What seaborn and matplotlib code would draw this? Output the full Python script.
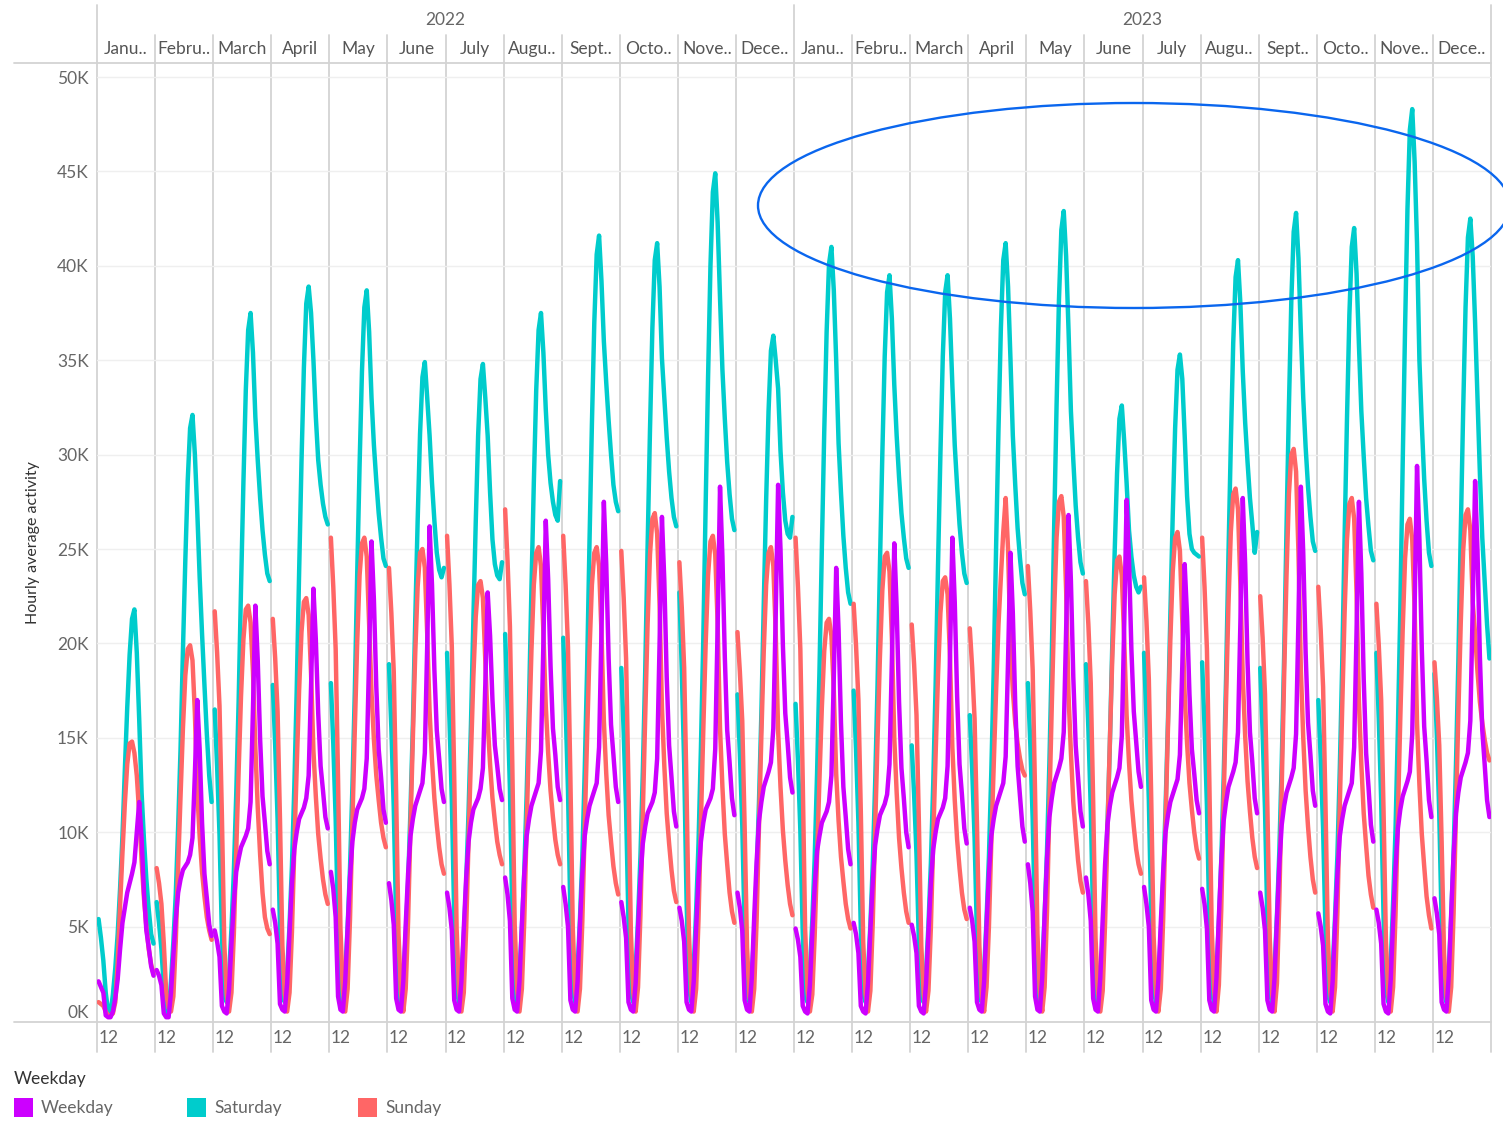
import matplotlib
matplotlib.use("Agg")
import matplotlib.pyplot as plt
import seaborn as sns
import pandas as pd
from matplotlib.patches import Ellipse, Rectangle
from matplotlib.lines import Line2D

# ---------------- data (hourly average activity, in thousands) ----------------
years = ["2022", "2023"]
month_labels = ["Janu..", "Febru..", "March", "April", "May", "June", "July",
                "Augu..", "Sept..", "Octo..", "Nove..", "Dece.."]
hour_tick_label = "12"
y_ticks = [0, 5, 10, 15, 20, 25, 30, 35, 40, 45, 50]
series_order = ["Saturday", "Sunday", "Weekday"]
legend_order = ["Weekday", "Saturday", "Sunday"]
colors = {"Weekday": "#CC00FF", "Saturday": "#00CCCC", "Sunday": "#FF6666"}

weekday = [
    [2.1, 1.8, 1.5, 0.3, 0.2, 0.2, 0.5, 1.2, 2.2, 3.8, 5.2, 6.0, 6.8, 7.3, 7.8, 8.4, 10.0, 11.6, 9.7, 6.8, 4.8, 3.9, 2.9, 2.4],
    [2.7, 2.4, 1.9, 0.4, 0.2, 0.2, 1.5, 3.5, 5.4, 6.8, 7.5, 8.0, 8.2, 8.4, 8.8, 9.7, 13.1, 17.0, 14.4, 10.5, 7.8, 6.5, 5.1, 4.5],
    [4.8, 4.2, 3.4, 0.8, 0.5, 0.4, 1.7, 4.1, 6.3, 7.9, 8.6, 9.2, 9.5, 9.8, 10.2, 11.6, 16.5, 22.0, 19.1, 14.9, 11.9, 10.5, 9.0, 8.3],
    [5.9, 5.2, 4.1, 0.9, 0.6, 0.5, 2.0, 4.7, 7.3, 9.1, 10.0, 10.7, 11.0, 11.3, 11.8, 13.0, 17.7, 22.9, 20.2, 16.3, 13.5, 12.2, 10.8, 10.2],
    [7.9, 7.0, 5.5, 1.3, 0.6, 0.5, 2.1, 4.9, 7.6, 9.5, 10.5, 11.2, 11.5, 11.8, 12.3, 13.9, 19.3, 25.4, 22.3, 17.7, 14.4, 12.9, 11.2, 10.5],
    [7.3, 6.4, 5.1, 1.2, 0.6, 0.5, 2.1, 5.1, 7.8, 9.8, 10.7, 11.4, 11.8, 12.2, 12.6, 14.2, 19.9, 26.2, 23.1, 18.6, 15.4, 13.9, 12.3, 11.6],
    [6.8, 6.0, 4.8, 1.1, 0.6, 0.5, 2.1, 4.9, 7.6, 9.5, 10.5, 11.2, 11.5, 11.8, 12.3, 13.4, 17.8, 22.7, 20.4, 17.0, 14.6, 13.5, 12.3, 11.7],
    [7.6, 6.7, 5.3, 1.2, 0.6, 0.5, 2.1, 5.1, 7.8, 9.8, 10.7, 11.4, 11.8, 12.2, 12.6, 14.3, 20.0, 26.5, 23.4, 18.8, 15.5, 14.1, 12.4, 11.7],
    [7.1, 6.2, 5.0, 1.1, 0.6, 0.5, 2.1, 5.1, 7.8, 9.8, 10.7, 11.4, 11.8, 12.2, 12.6, 14.5, 20.6, 27.5, 24.2, 19.2, 15.7, 14.1, 12.4, 11.6],
    [6.3, 5.5, 4.4, 1.0, 0.6, 0.5, 2.0, 4.9, 7.5, 9.4, 10.3, 11.0, 11.3, 11.6, 12.1, 13.9, 19.9, 26.7, 23.3, 18.2, 14.6, 12.9, 11.1, 10.3],
    [6.0, 5.3, 4.2, 1.0, 0.6, 0.5, 2.1, 4.9, 7.6, 9.5, 10.5, 11.2, 11.5, 11.8, 12.3, 14.4, 20.9, 28.3, 24.6, 19.3, 15.4, 13.7, 11.8, 10.9],
    [6.8, 6.0, 4.8, 1.1, 0.6, 0.5, 2.3, 5.5, 8.4, 10.6, 11.6, 12.4, 12.8, 13.2, 13.7, 15.5, 21.5, 28.4, 25.0, 19.9, 16.3, 14.7, 12.9, 12.1],
    [4.9, 4.3, 3.4, 0.8, 0.5, 0.4, 1.9, 4.6, 7.1, 9.0, 9.8, 10.5, 10.8, 11.1, 11.6, 13.0, 18.2, 24.0, 20.7, 15.8, 12.4, 10.8, 9.1, 8.3],
    [5.2, 4.6, 3.6, 0.8, 0.5, 0.4, 2.0, 4.8, 7.4, 9.3, 10.2, 10.9, 11.2, 11.5, 12.0, 13.6, 19.1, 25.3, 21.9, 16.9, 13.4, 11.8, 10.0, 9.2],
    [5.1, 4.5, 3.6, 0.8, 0.5, 0.4, 2.0, 4.7, 7.3, 9.1, 10.0, 10.7, 11.0, 11.3, 11.8, 13.5, 19.2, 25.6, 22.2, 17.2, 13.6, 12.0, 10.2, 9.4],
    [6.0, 5.3, 4.2, 1.0, 0.6, 0.5, 2.1, 5.1, 7.8, 9.8, 10.7, 11.4, 11.8, 12.2, 12.6, 14.0, 19.1, 24.8, 21.6, 16.8, 13.5, 11.9, 10.3, 9.5],
    [8.3, 7.3, 5.8, 1.3, 0.6, 0.5, 2.3, 5.6, 8.6, 10.8, 11.8, 12.6, 13.0, 13.4, 13.9, 15.3, 20.7, 26.8, 23.3, 18.2, 14.6, 12.9, 11.1, 10.3],
    [7.6, 6.7, 5.3, 1.2, 0.6, 0.5, 2.3, 5.4, 8.3, 10.4, 11.4, 12.1, 12.5, 12.9, 13.4, 15.1, 21.0, 27.6, 24.4, 19.7, 16.4, 14.8, 13.2, 12.4],
    [7.1, 6.2, 5.0, 1.1, 0.6, 0.5, 2.2, 5.2, 7.9, 10.0, 10.9, 11.6, 12.0, 12.4, 12.8, 14.1, 18.8, 24.2, 21.4, 17.3, 14.4, 13.1, 11.7, 11.0],
    [7.0, 6.2, 4.9, 1.1, 0.6, 0.5, 2.3, 5.5, 8.4, 10.6, 11.6, 12.4, 12.8, 13.2, 13.7, 15.3, 21.1, 27.7, 24.2, 19.0, 15.3, 13.7, 11.8, 11.0],
    [6.8, 6.0, 4.8, 1.1, 0.6, 0.5, 2.3, 5.4, 8.3, 10.4, 11.4, 12.1, 12.5, 12.9, 13.4, 15.2, 21.3, 28.3, 24.8, 19.5, 15.8, 14.1, 12.2, 11.4],
    [5.7, 5.0, 4.0, 0.9, 0.5, 0.4, 2.1, 5.1, 7.8, 9.8, 10.7, 11.4, 11.8, 12.2, 12.6, 14.5, 20.6, 27.5, 23.7, 18.1, 14.2, 12.4, 10.4, 9.5],
    [5.9, 5.2, 4.1, 0.9, 0.5, 0.4, 2.2, 5.3, 8.1, 10.2, 11.2, 11.9, 12.3, 12.7, 13.2, 15.2, 21.9, 29.4, 25.5, 19.7, 15.6, 13.8, 11.7, 10.8],
    [6.5, 5.7, 4.6, 1.0, 0.6, 0.5, 2.4, 5.7, 8.8, 11.0, 12.1, 12.9, 13.3, 13.7, 14.2, 15.9, 21.9, 28.6, 24.9, 19.3, 15.4, 13.6, 11.7, 10.8],
]

saturday = [
    [5.4, 4.4, 3.2, 1.5, 0.5, 0.4, 1.4, 2.8, 4.6, 7.0, 9.8, 13.3, 16.6, 19.4, 21.3, 21.8, 19.5, 16.0, 12.1, 9.6, 7.5, 5.9, 4.6, 4.1],
    [6.3, 5.2, 3.8, 1.8, 0.5, 0.4, 2.1, 4.2, 6.7, 10.3, 14.4, 19.6, 24.4, 28.6, 31.4, 32.1, 30.0, 27.0, 23.5, 20.5, 17.8, 15.2, 13.0, 11.6],
    [16.5, 13.5, 9.9, 4.6, 1.3, 1.0, 2.4, 4.9, 7.9, 12.0, 16.9, 22.9, 28.5, 33.4, 36.6, 37.5, 35.4, 32.0, 29.7, 27.7, 26.0, 24.7, 23.7, 23.3],
    [17.8, 14.6, 10.7, 5.0, 1.4, 1.0, 2.5, 5.1, 8.2, 12.4, 17.5, 23.7, 29.6, 34.6, 38.0, 38.9, 37.5, 35.0, 32.0, 29.7, 28.4, 27.4, 26.7, 26.3],
    [17.9, 14.7, 10.7, 5.0, 1.4, 1.0, 2.5, 5.0, 8.1, 12.4, 17.4, 23.6, 29.4, 34.4, 37.8, 38.7, 36.5, 33.0, 30.5, 28.6, 26.9, 25.6, 24.5, 24.1],
    [18.9, 15.5, 11.3, 5.3, 1.5, 1.0, 2.3, 4.5, 7.3, 11.2, 15.7, 21.3, 26.5, 31.1, 34.1, 34.9, 33.0, 31.0, 28.5, 26.5, 24.8, 23.9, 23.5, 24.0],
    [19.5, 16.0, 11.7, 5.5, 1.6, 1.0, 2.3, 4.5, 7.3, 11.1, 15.7, 21.2, 26.4, 31.0, 34.0, 34.8, 33.0, 31.0, 28.0, 25.5, 24.2, 23.6, 23.4, 24.3],
    [20.5, 16.8, 12.3, 5.7, 1.6, 1.0, 2.4, 4.9, 7.9, 12.0, 16.9, 22.9, 28.5, 33.4, 36.6, 37.5, 35.4, 32.4, 30.0, 28.5, 27.5, 26.8, 26.5, 28.6],
    [20.3, 16.6, 12.2, 5.7, 1.6, 1.0, 2.7, 5.4, 8.7, 13.3, 18.7, 25.4, 31.6, 37.0, 40.6, 41.6, 39.2, 36.0, 33.8, 31.8, 30.0, 28.4, 27.5, 27.0],
    [18.7, 15.3, 11.2, 5.2, 1.5, 1.0, 2.7, 5.4, 8.7, 13.2, 18.5, 25.1, 31.3, 36.7, 40.3, 41.2, 38.9, 35.1, 33.0, 30.9, 29.1, 27.7, 26.7, 26.2],
    [22.7, 18.6, 13.6, 6.4, 1.8, 1.0, 2.9, 5.8, 9.4, 14.4, 20.2, 27.4, 34.1, 40.0, 43.9, 44.9, 42.3, 38.3, 34.5, 31.9, 29.6, 27.9, 26.6, 26.0],
    [17.3, 14.2, 10.4, 4.8, 1.4, 1.0, 2.4, 4.7, 7.6, 11.6, 16.3, 22.1, 27.6, 32.3, 35.5, 36.3, 35.0, 33.5, 30.2, 28.0, 26.5, 25.8, 25.6, 26.7],
    [16.8, 13.8, 10.1, 4.7, 1.3, 1.0, 2.7, 5.3, 8.6, 13.1, 18.5, 25.0, 31.2, 36.5, 40.1, 41.0, 38.7, 35.0, 30.6, 28.0, 25.7, 24.0, 22.7, 22.1],
    [17.5, 14.4, 10.5, 4.9, 1.4, 1.0, 2.6, 5.1, 8.3, 12.6, 17.8, 24.1, 30.0, 35.2, 38.6, 39.5, 37.2, 33.7, 31.0, 28.8, 26.9, 25.6, 24.5, 24.0],
    [14.6, 12.0, 8.8, 4.1, 1.2, 1.0, 2.6, 5.1, 8.3, 12.6, 17.8, 24.1, 30.0, 35.2, 38.6, 39.5, 37.2, 33.7, 30.5, 28.3, 26.3, 24.8, 23.7, 23.2],
    [16.2, 13.3, 9.7, 4.5, 1.3, 1.0, 2.7, 5.4, 8.7, 13.2, 18.5, 25.1, 31.3, 36.7, 40.3, 41.2, 38.9, 35.1, 31.0, 28.4, 26.1, 24.5, 23.2, 22.6],
    [17.9, 14.7, 10.7, 5.0, 1.4, 1.0, 2.8, 5.6, 9.0, 13.7, 19.3, 26.2, 32.6, 38.2, 41.9, 42.9, 40.5, 36.6, 32.3, 29.7, 27.3, 25.6, 24.3, 23.7],
    [18.9, 15.5, 11.3, 5.3, 1.5, 1.0, 2.1, 4.2, 6.8, 10.4, 14.7, 19.9, 24.8, 29.0, 31.9, 32.6, 30.7, 28.5, 26.0, 24.6, 23.6, 23.0, 22.7, 23.0],
    [19.5, 16.0, 11.7, 5.5, 1.6, 1.0, 2.3, 4.6, 7.4, 11.3, 15.9, 21.5, 26.8, 31.4, 34.5, 35.3, 34.0, 31.0, 27.8, 25.8, 25.0, 24.8, 24.7, 24.6],
    [19.0, 15.6, 11.4, 5.3, 1.5, 1.0, 2.6, 5.2, 8.5, 12.9, 18.1, 24.6, 30.6, 35.9, 39.4, 40.3, 38.0, 34.4, 31.7, 29.6, 27.7, 26.3, 24.8, 25.9],
    [18.7, 15.3, 11.2, 5.2, 1.5, 1.0, 2.8, 5.6, 9.0, 13.7, 19.3, 26.1, 32.5, 38.1, 41.8, 42.8, 40.4, 36.5, 33.0, 30.4, 28.3, 26.7, 25.4, 24.9],
    [17.0, 13.9, 10.2, 4.8, 1.4, 1.0, 2.7, 5.5, 8.8, 13.4, 18.9, 25.6, 31.9, 37.4, 41.0, 42.0, 39.6, 35.8, 32.3, 29.9, 27.7, 26.2, 24.9, 24.4],
    [19.5, 16.0, 11.7, 5.5, 1.6, 1.0, 3.1, 6.3, 10.1, 15.5, 21.7, 29.5, 36.7, 43.0, 47.2, 48.3, 45.5, 41.2, 35.0, 31.6, 28.7, 26.5, 24.8, 24.1],
    [18.4, 15.1, 11.0, 5.2, 1.5, 1.0, 2.8, 5.5, 8.9, 13.6, 19.1, 25.9, 32.3, 37.8, 41.5, 42.5, 40.5, 37.0, 33.0, 29.0, 25.6, 23.3, 21.0, 19.2],
]

sunday = [
    [1.0, 0.9, 0.8, 0.5, 0.3, 0.3, 0.4, 1.0, 3.1, 6.1, 8.9, 11.5, 13.6, 14.7, 14.8, 14.2, 13.0, 11.0, 8.5, 6.5, 5.0, 3.8, 3.0, 2.5],
    [8.1, 7.3, 6.2, 4.1, 1.5, 0.7, 0.5, 1.3, 4.2, 8.2, 11.9, 15.5, 18.3, 19.7, 19.9, 19.1, 16.3, 12.1, 9.8, 7.9, 6.6, 5.5, 4.8, 4.3],
    [21.7, 19.5, 16.7, 10.9, 4.1, 1.4, 0.5, 1.5, 4.6, 9.0, 13.2, 17.2, 20.2, 21.8, 22.0, 21.1, 18.5, 14.5, 11.3, 8.8, 6.8, 5.5, 4.9, 4.6],
    [21.3, 19.2, 16.4, 10.7, 4.0, 1.4, 0.5, 1.5, 4.7, 9.2, 13.4, 17.5, 20.6, 22.2, 22.4, 21.5, 18.4, 14.3, 11.9, 9.9, 8.6, 7.5, 6.7, 6.2],
    [25.6, 23.0, 19.7, 12.8, 4.9, 1.6, 0.5, 1.7, 5.4, 10.5, 15.4, 20.0, 23.6, 25.3, 25.6, 24.6, 21.0, 17.4, 14.9, 13.0, 11.7, 10.5, 9.7, 9.2],
    [24.0, 21.6, 18.5, 12.0, 4.6, 1.5, 0.5, 1.7, 5.3, 10.3, 15.0, 19.5, 23.0, 24.8, 25.0, 24.0, 20.5, 16.4, 13.8, 11.8, 10.4, 9.2, 8.3, 7.8],
    [25.7, 23.1, 19.8, 12.9, 4.9, 1.6, 0.5, 1.5, 4.9, 9.6, 14.0, 18.2, 21.4, 23.1, 23.3, 22.4, 19.1, 15.8, 13.6, 11.8, 10.6, 9.5, 8.8, 8.3],
    [27.1, 24.4, 20.9, 13.6, 5.1, 1.7, 0.5, 1.7, 5.3, 10.3, 15.1, 19.6, 23.1, 24.8, 25.1, 24.1, 20.6, 16.7, 14.2, 12.2, 10.8, 9.6, 8.8, 8.3],
    [25.7, 23.1, 19.8, 12.9, 4.9, 1.6, 0.5, 1.7, 5.3, 10.3, 15.1, 19.6, 23.1, 24.8, 25.1, 24.1, 20.6, 15.9, 13.1, 10.9, 9.5, 8.2, 7.3, 6.7],
    [24.9, 22.4, 19.2, 12.5, 4.7, 1.5, 0.5, 1.8, 5.6, 11.0, 16.1, 21.0, 24.7, 26.6, 26.9, 25.8, 22.1, 16.6, 13.5, 11.0, 9.4, 8.0, 6.9, 6.3],
    [24.3, 21.9, 18.7, 12.2, 4.6, 1.5, 0.5, 1.7, 5.4, 10.5, 15.4, 20.0, 23.6, 25.4, 25.7, 24.7, 21.1, 15.5, 12.4, 9.9, 8.3, 6.8, 5.8, 5.2],
    [20.6, 18.5, 15.9, 10.3, 3.9, 1.3, 0.5, 1.7, 5.3, 10.3, 15.1, 19.6, 23.1, 24.8, 25.1, 24.1, 20.6, 15.4, 12.4, 10.1, 8.5, 7.2, 6.2, 5.6],
    [25.6, 23.0, 19.7, 12.8, 4.9, 1.6, 0.5, 1.4, 4.5, 8.7, 12.8, 16.6, 19.6, 21.1, 21.3, 20.4, 17.5, 13.1, 10.6, 8.7, 7.4, 6.2, 5.4, 4.9],
    [22.1, 19.9, 17.0, 11.1, 4.2, 1.4, 0.5, 1.6, 5.2, 10.2, 14.9, 19.3, 22.8, 24.6, 24.8, 23.8, 20.3, 15.0, 12.1, 9.7, 8.1, 6.8, 5.8, 5.2],
    [21.0, 18.9, 16.2, 10.5, 4.0, 1.4, 0.5, 1.6, 4.9, 9.6, 14.1, 18.3, 21.6, 23.3, 23.5, 22.6, 19.3, 14.5, 11.7, 9.6, 8.1, 6.8, 5.9, 5.4],
    [20.8, 18.7, 16.0, 10.4, 4.0, 1.3, 0.5, 1.8, 5.0, 9.5, 13.5, 17.5, 21.0, 23.5, 25.9, 27.7, 25.0, 20.0, 17.5, 15.8, 14.7, 13.9, 13.3, 13.0],
    [24.1, 21.7, 18.6, 12.1, 4.6, 1.5, 0.5, 1.8, 5.8, 11.4, 16.7, 21.7, 25.6, 27.5, 27.8, 26.7, 22.8, 17.3, 14.2, 11.6, 10.0, 8.5, 7.4, 6.8],
    [23.3, 21.0, 17.9, 11.7, 4.4, 1.5, 0.5, 1.6, 5.2, 10.1, 14.8, 19.2, 22.6, 24.4, 24.6, 23.6, 20.2, 16.2, 13.7, 11.7, 10.3, 9.1, 8.3, 7.8],
    [23.5, 21.2, 18.1, 11.8, 4.5, 1.5, 0.5, 1.7, 5.4, 10.6, 15.5, 20.2, 23.8, 25.6, 25.9, 24.9, 21.2, 17.3, 14.7, 12.6, 11.2, 10.0, 9.1, 8.6],
    [25.6, 23.0, 19.7, 12.8, 4.9, 1.6, 0.5, 1.9, 5.9, 11.6, 16.9, 22.0, 25.9, 27.9, 28.2, 27.1, 23.1, 18.2, 15.1, 12.7, 11.1, 9.7, 8.7, 8.1],
    [22.5, 20.3, 17.3, 11.3, 4.3, 1.4, 0.5, 2.0, 6.4, 12.4, 18.2, 23.6, 27.9, 30.0, 30.3, 29.1, 24.8, 18.6, 15.0, 12.2, 10.3, 8.7, 7.5, 6.8],
    [23.0, 20.7, 17.7, 11.5, 4.4, 1.5, 0.5, 1.8, 5.8, 11.4, 16.6, 21.6, 25.5, 27.4, 27.7, 26.6, 22.7, 16.9, 13.6, 11.0, 9.3, 7.7, 6.7, 6.0],
    [22.1, 19.9, 17.0, 11.1, 4.2, 1.4, 0.5, 1.8, 5.6, 10.9, 16.0, 20.7, 24.5, 26.3, 26.6, 25.5, 21.8, 15.8, 12.5, 9.9, 8.2, 6.6, 5.6, 4.9],
    [19.0, 17.1, 14.6, 9.5, 3.6, 1.3, 0.5, 1.8, 5.7, 11.1, 16.3, 21.1, 24.9, 26.8, 27.1, 26.0, 22.2, 20.5, 18.5, 16.9, 15.8, 14.9, 14.2, 13.8],
]

# ---------------- layout helpers ----------------
W, H = 1503, 1121
sns.set_style("white")
plt.rcParams["font.family"] = ["Lato", "DejaVu Sans"]
plt.rcParams["lines.solid_joinstyle"] = "round"
plt.rcParams["lines.solid_capstyle"] = "round"

fig = plt.figure(figsize=(W / 100, H / 100), dpi=100)
fig.patch.set_facecolor("white")


def fx(px):
    return px / W


def fy(py):
    return 1 - py / H


L, R, T, B = 97, 1491, 63, 1022
n_months = len(years) * len(month_labels)
panel_px = (R - L) / n_months
PW, OFF = 24.3, 0.65  # panel width in data units, offset of hour 0


def yval(py):
    return (1021 - py) / 18.88


ax = fig.add_axes([fx(L), fy(B), fx(R) - fx(L), fy(T) - fy(B)])
ax.patch.set_alpha(0)

rows = []
for m in range(n_months):
    for name, arr in (("Saturday", saturday), ("Sunday", sunday), ("Weekday", weekday)):
        for h, v in enumerate(arr[m]):
            rows.append({"x": m * PW + OFF + h, "value": v, "series": name, "month": m})
df = pd.DataFrame(rows)

for yt in y_ticks[1:]:
    ax.axhline(yt, color="#efefef", lw=1.0, zorder=0)

sns.lineplot(data=df, x="x", y="value", hue="series", hue_order=series_order,
             units="month", estimator=None, palette=colors, linewidth=3.2,
             legend=False, ax=ax, sort=False)

ax.set_xlim(0, n_months * PW)
ax.set_ylim(yval(B), yval(T))
for s in ax.spines.values():
    s.set_visible(False)
ax.set_xlabel("")
ax.set_ylabel("")

# y ticks
ax.set_yticks(y_ticks)
ax.set_yticklabels([f"{v}K" for v in y_ticks])
ax.tick_params(axis="y", length=0, pad=6, labelsize=12.5, labelcolor="#666666")
ylabels = ax.get_yticklabels()
ylabels[0].set_va("bottom")

# x ticks: hour 0 of each month labelled "12"
ax.set_xticks([m * PW + OFF for m in range(n_months)])
ax.set_xticklabels([hour_tick_label] * n_months)
ax.tick_params(axis="x", length=0, pad=6, labelsize=12.5, labelcolor="#666666")
for t in ax.get_xticklabels():
    t.set_ha("left")

# structure lines (figure level, under the data)
line_col = "#d3d3d3"
for m in range(n_months + 1):
    xp = L + m * panel_px
    top = 5 if m in (0, len(month_labels), n_months) else 35
    fig.add_artist(Line2D([fx(xp), fx(xp)], [fy(top), fy(1052)], transform=fig.transFigure,
                          color=line_col, lw=1.3, zorder=-1))
for yp in (T, B):
    fig.add_artist(Line2D([fx(14), fx(R)], [fy(yp), fy(yp)], transform=fig.transFigure,
                          color=line_col, lw=1.3, zorder=-1))

# header text
for yi, yr in enumerate(years):
    x0 = L + yi * 12 * panel_px
    fig.text(fx(x0 + 6 * panel_px), fy(20), yr, ha="center", va="center",
             fontsize=12.5, color="#666666")
    for mi, ml in enumerate(month_labels):
        xc = x0 + (mi + 0.5) * panel_px
        fig.text(fx(xc), fy(49), ml, ha="center", va="center", fontsize=12.5, color="#555555")

# y axis title
fig.text(fx(33), fy(543), "Hourly average activity", rotation=90, ha="center", va="center",
         fontsize=11.5, color="#333333")

# legend
fig.text(fx(14), fy(1079), "Weekday", ha="left", va="center", fontsize=12.5, color="#333333")
leg_sq_x = [14, 187, 358]
for name, sx in zip(legend_order, leg_sq_x):
    fig.add_artist(Rectangle((fx(sx), fy(1117)), 19 / W, 19 / H, transform=fig.transFigure,
                             facecolor=colors[name], edgecolor="none"))
    fig.text(fx(sx + 27), fy(1108), name, ha="left", va="center", fontsize=12.5, color="#666666")

# blue annotation ellipse
fig.add_artist(Ellipse((fx(1134), fy(205.5)), 752 / W, 205 / H, transform=fig.transFigure,
                       fill=False, edgecolor="#0a66ee", lw=1.7, zorder=10))

fig.savefig("out.png", dpi=100)
